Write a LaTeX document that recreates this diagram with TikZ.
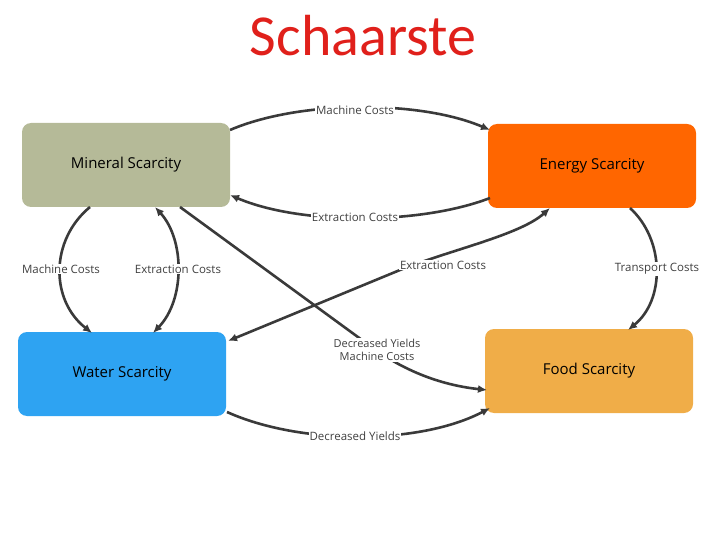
\documentclass[tikz,border=0pt]{standalone}
\usepackage{fontspec}
\setmainfont{Open Sans}
\newfontfamily\titlefont{Carlito}
\usetikzlibrary{arrows.meta}
\definecolor{mineral}{HTML}{B5BA98}
\definecolor{energy}{HTML}{FF6600}
\definecolor{water}{HTML}{2EA3F2}
\definecolor{food}{HTML}{F0AD48}
\definecolor{arr}{HTML}{3A3A3A}
\definecolor{titlered}{HTML}{E0201B}
\begin{document}
\begin{tikzpicture}[x=1pt,y=-1pt,
  box/.style={rounded corners=9pt,minimum width=208pt,minimum height=84pt,inner sep=0pt,font=\fontsize{15}{18}\selectfont},
  con/.style={draw=arr,line width=2.6pt,-{Latex[length=9pt,width=8pt]}},
  bicon/.style={draw=arr,line width=2.6pt,{Latex[length=9pt,width=8pt]}-{Latex[length=9pt,width=8pt]}},
  lab/.style={fill=white,inner sep=1pt,font=\fontsize{11.5}{12}\selectfont,text=black!75,align=center}]
\useasboundingbox (0,0) rectangle (720,540);
\node[font=\titlefont\fontsize{58}{64}\selectfont,text=titlered] (title) at (363,36) {Schaarste};
\node[box,fill=mineral] (min) at (126,165) {Mineral Scarcity};
\node[box,fill=energy] (en) at (592,166) {Energy Scarcity};
\node[box,fill=water] (wat) at (122,374) {Water Scarcity};
\node[box,fill=food] (food) at (589,371) {Food Scarcity};
\coordinate (m1) at (230,130);
\coordinate (e1) at (490,130);
\draw[con] (m1) .. controls (300,100) and (420,100) .. (e1);
\coordinate (e2) at (490,198);
\coordinate (m2) at (230,195);
\draw[con] (e2) .. controls (420,225) and (300,225) .. (m2);
\coordinate (m3) at (90,207);
\coordinate (w3) at (92,333);
\draw[con] (m3) .. controls (50,240) and (50,300) .. (w3);
\coordinate (m4) at (155,207);
\coordinate (w4) at (153,333);
\draw[bicon] (m4) .. controls (185,240) and (185,300) .. (w4);
\coordinate (e5) at (550,208);
\coordinate (w5) at (228,341);
\draw[bicon] (e5) .. controls (520,235) and (450,250) .. (400,270) -- (w5);
\coordinate (e6) at (630,208);
\coordinate (f6) at (628,330);
\draw[con] (e6) .. controls (665,240) and (665,300) .. (f6);
\coordinate (m7) at (180,207);
\coordinate (f7) at (487,390);
\draw[con] (m7) -- (362,340) .. controls (400,370) and (440,385) .. (f7);
\coordinate (w8) at (227,412);
\coordinate (f8) at (490,408);
\draw[con] (w8) .. controls (300,445) and (420,445) .. (f8);
\node[lab] (l1) at (355,110) {Machine Costs};
\node[lab] (l2) at (355,217) {Extraction Costs};
\node[lab] (l3) at (61,269) {Machine Costs};
\node[lab] (l4) at (178,269) {Extraction Costs};
\node[lab] (l5) at (443,265) {Extraction Costs};
\node[lab] (l6) at (657,269) {Transport Costs};
\node[lab,font=\fontsize{11}{13}\selectfont] (l7) at (377,350) {Decreased Yields\\Machine Costs};
\node[lab] (l8) at (355,436) {Decreased Yields};
\end{tikzpicture}
\end{document}
